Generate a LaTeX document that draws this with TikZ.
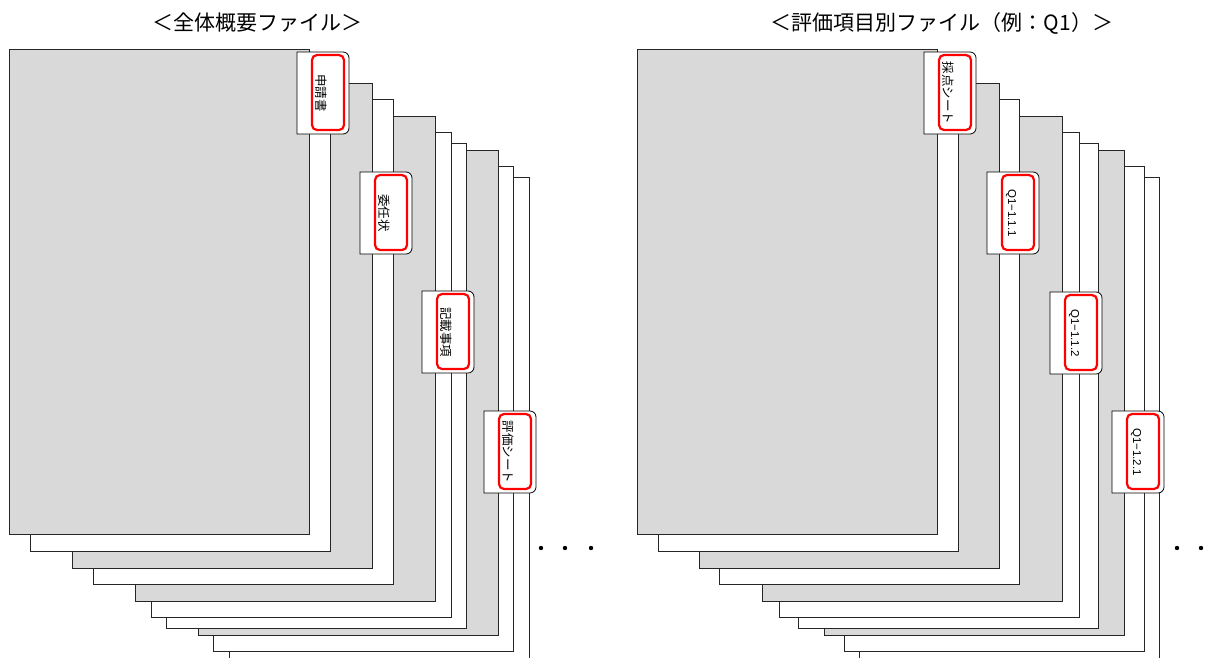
\documentclass[tikz,border=0pt]{standalone}
\usepackage{fontspec}
\setmainfont{Noto Sans CJK JP}
\newfontfamily\arialfont{Liberation Sans}
\usepackage{tikz}
\definecolor{sheetgray}{RGB}{217,217,217}
\tikzstyle{sheet}=[draw=black!85, line width=0.8pt]
\tikzstyle{tabline}=[draw=black, fill=white, line width=0.8pt]
\tikzstyle{redbox}=[draw=red, line width=2.2pt, rounded corners=5pt]
\tikzstyle{tablabel}=[rotate=-90, inner sep=0pt, font=\fontsize{12.5}{12.5}\selectfont]
\tikzstyle{qlabel}=[tablabel, font=\arialfont\fontsize{11.5}{11.5}\selectfont]
\tikzstyle{title}=[inner sep=0pt, font=\fontsize{21}{21}\selectfont]
\tikzstyle{dot}=[circle, fill=black, inner sep=0pt, minimum size=4.4pt]
% tab: x, y (top left), name, text, label style
\newcommand{\tabsheet}[5][tablabel]{%
  \draw[tabline] (#2,#3) -- ++(20,0) [rounded corners=6pt] -- ++(32,0) -- ++(0,82) -- ++(-32,0) [sharp corners] -- ++(-20,0) -- cycle;
  \draw[redbox] (#2+15,#3+3) rectangle (#2+47,#3+78);
  \node[#1] (#4) at (#2+24,#3+41) {#5};
}
\begin{document}
\begin{tikzpicture}[x=1pt,y=-1pt]
\useasboundingbox (0,0) rectangle (1223,657);

\node[title] (title1) at (257,23) {＜全体概要ファイル＞};
\node[title] (title2) at (942,23) {＜評価項目別ファイル（例：Q1）＞};

% left stack
\foreach \dx/\dy/\c in {220/128/white, 204/117/white, 189/101/sheetgray, 157/94/white, 142/83/white,
                        126/67/sheetgray, 84/50/white, 63/34/sheetgray, 21/17/white, 0/0/sheetgray}
  \draw[sheet, fill=\c] (9+\dx,49+\dy) rectangle ++(300,485);

\tabsheet{297}{52}{tabA}{申請書}
\tabsheet{360}{172}{tabB}{委任状}
\tabsheet{422}{291}{tabC}{記載事項}
\tabsheet{484}{411}{tabD}{評価シート}

\node[dot] (dotA1) at (541,548) {};
\node[dot] (dotA2) at (565,548) {};
\node[dot] (dotA3) at (591,548) {};

% right stack
\foreach \dx/\dy/\c in {222/128/white, 207/117/white, 187/101/sheetgray, 161/94/white, 142/83/white,
                        125/67/sheetgray, 82/50/white, 62/34/sheetgray, 21/17/white, 0/0/sheetgray}
  \draw[sheet, fill=\c] (637+\dx,49+\dy) rectangle ++(300,485);

\tabsheet{924}{52}{tabE}{採点シート}
\tabsheet[qlabel]{987}{172}{tabF}{Q1−1.1.1}
\tabsheet[qlabel]{1050}{292}{tabG}{Q1−1.1.2}
\tabsheet[qlabel]{1112}{411}{tabH}{Q1−1.2.1}

\node[dot] (dotB1) at (1177,548) {};
\node[dot] (dotB2) at (1201,548) {};
\end{tikzpicture}
\end{document}
